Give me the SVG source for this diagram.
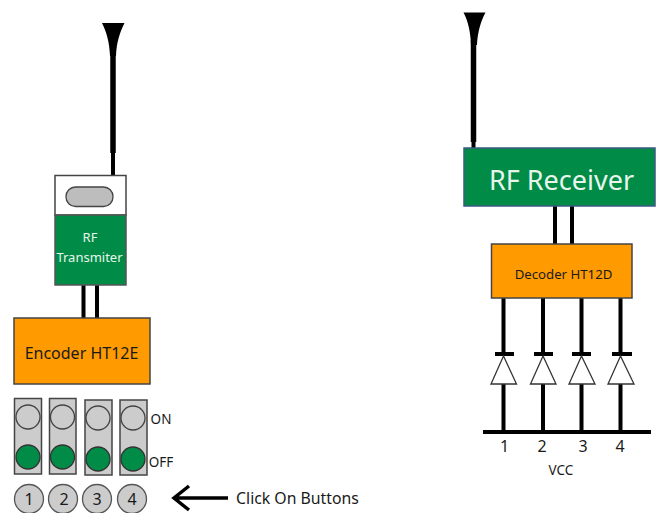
<svg xmlns="http://www.w3.org/2000/svg" width="657" height="513" viewBox="0 0 657 513">
<style>
text{font-family:"Noto Sans","DejaVu Sans",sans-serif;text-anchor:middle;fill:#1a1a1a}
.w{stroke:#000;stroke-width:4;fill:none}
.thick{stroke:#000;stroke-width:5.5;fill:none}
.ant{fill:#000;stroke:none}
.green{fill:#008c47;stroke:#555;stroke-width:1.5}
.orange{fill:#ff9a00;stroke:#444;stroke-width:1.5}
.sw{fill:#ccc;stroke:#444;stroke-width:1.5}
.off{fill:#ccc;stroke:#444;stroke-width:1.3}
.on{fill:#008c47;stroke:#333;stroke-width:1.3}
.btn{fill:#ccc;stroke:#555;stroke-width:1.3}
text.lt{fill:#e8f5ec}
.d{fill:#fff;stroke:#333;stroke-width:1.3}
</style>
<g id="connectors">
<path class="thick" d="M113 50V153"/>
<path class="w" d="M113 153V176"/>
<path class="w" d="M83.500 285V318M97 285V318"/>
<path class="thick" d="M473.500 40V142"/>
<path class="w" d="M473.500 142V149"/>
<path class="w" d="M555 206V244M572 206V244"/>
<path class="w" d="M503.500 298V354M543 298V354M581.500 298V354M620.500 298V354"/>
<path class="w" d="M503.500 384V432M543 384V432M581.500 384V432M620.500 384V432"/>
<path class="w" d="M483 432H651"/>
<path class="w" d="M495 354H514M534 354H553M572 354H591M612 354H632"/>
<path fill="none" stroke="#000" stroke-width="3.500" d="M228 498H174M189 486L174 498L189 510"/>
</g>
<g id="antenna-tx"><path class="ant" d="M102 23H124.500C120 32 116.500 42 116 56H110C109.500 42 106.500 32 102 23Z"/></g>
<g id="antenna-rx"><path class="ant" d="M463.500 12.500H485.500C481 21 477.500 32 477 45H471C470.500 32 468 21 463.500 12.500Z"/></g>
<g id="rf-transmitter">
<rect x="55" y="175.500" width="71" height="39.500" fill="#fff" stroke="#444" stroke-width="1.500"/>
<rect x="66" y="187" width="47" height="19.500" rx="9.500" fill="#bdbdbd" stroke="#444" stroke-width="1.300"/>
<rect class="green" x="55" y="215" width="71" height="70"/>
<text class="lt" x="90" y="242" font-size="13">RF</text>
<text class="lt" x="89.500" y="262" font-size="13">Transmiter</text>
</g>
<g id="encoder"><rect class="orange" x="14" y="318" width="136" height="66"/><text x="81.500" y="359" font-size="16">Encoder HT12E</text></g>
<g id="switch-1"><rect class="sw" x="14.500" y="398.500" width="27" height="75.500"/><circle class="off" cx="28" cy="417" r="12"/><circle class="on" cx="28" cy="457" r="12"/></g>
<g id="switch-2"><rect class="sw" x="49.500" y="398.500" width="26.500" height="75.500"/><circle class="off" cx="62.500" cy="417" r="12"/><circle class="on" cx="62.500" cy="457" r="12"/></g>
<g id="switch-3"><rect class="sw" x="85" y="400" width="27" height="75"/><circle class="off" cx="98" cy="418" r="12"/><circle class="on" cx="98" cy="459" r="12"/></g>
<g id="switch-4"><rect class="sw" x="120" y="400" width="27" height="75"/><circle class="off" cx="133" cy="418" r="12"/><circle class="on" cx="133" cy="459" r="12"/></g>
<g id="label-on"><text x="161" y="424" font-size="13.500">ON</text></g>
<g id="label-off"><text x="161" y="467" font-size="13.500">OFF</text></g>
<g id="button-1"><circle class="btn" cx="29" cy="499" r="14.500"/><text x="29" y="505" font-size="16">1</text></g>
<g id="button-2"><circle class="btn" cx="63" cy="499" r="14.500"/><text x="64" y="505" font-size="16">2</text></g>
<g id="button-3"><circle class="btn" cx="97" cy="499" r="14.500"/><text x="97" y="505" font-size="16">3</text></g>
<g id="button-4"><circle class="btn" cx="132" cy="499" r="14.500"/><text x="132" y="505" font-size="16">4</text></g>
<g id="click-label"><text x="297.500" y="504" font-size="15.800">Click On Buttons</text></g>
<g id="rf-receiver"><rect x="464" y="148" width="191" height="58" fill="#008c47" stroke="#3a5a80" stroke-width="1.500"/><text class="lt" x="561.500" y="190" font-size="27">RF Receiver</text></g>
<g id="decoder"><rect class="orange" x="491.500" y="244" width="140.500" height="54"/><text x="563.500" y="279" font-size="13.200">Decoder HT12D</text></g>
<g id="diode-1"><path class="d" d="M503.500 356L516.500 384H491Z"/></g>
<g id="diode-2"><path class="d" d="M543 356L556 384H530.500Z"/></g>
<g id="diode-3"><path class="d" d="M581.500 356L595 384H569Z"/></g>
<g id="diode-4"><path class="d" d="M620.500 356L634 384H608Z"/></g>
<g id="vcc-labels">
<text x="504.500" y="452" font-size="16">1</text>
<text x="542" y="452" font-size="16">2</text>
<text x="583" y="452" font-size="16">3</text>
<text x="620" y="452" font-size="16">4</text>
<text x="561" y="475" font-size="13.500">VCC</text>
</g>
</svg>
